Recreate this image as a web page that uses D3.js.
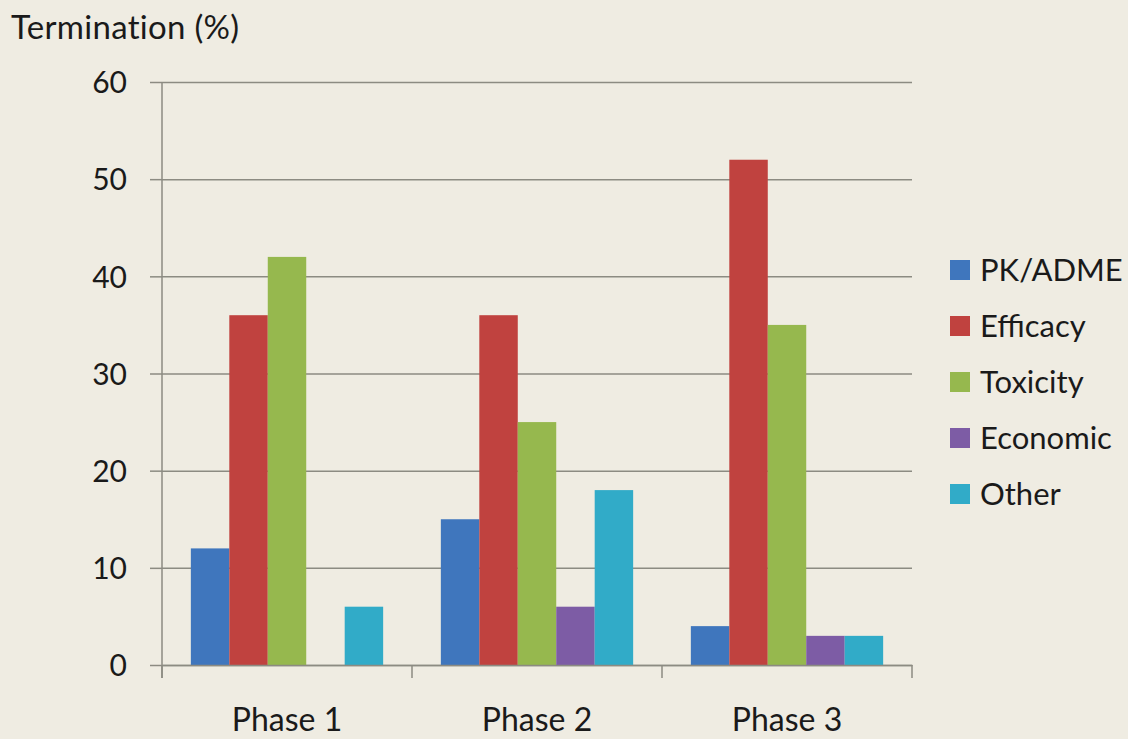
<!DOCTYPE html>
<html>
<head>
<meta charset="utf-8">
<script src="https://cdn.jsdelivr.net/npm/d3@7"></script>
<style>
  body { margin: 0; background: #efece2; }
  text { font-family: Lato, "Open Sans", sans-serif; fill: #1a1a1a; }
</style>
</head>
<body>
<div id="chart"></div>
<script>
// data
const phases = ["Phase 1", "Phase 2", "Phase 3"];
const series = ["PK/ADME", "Efficacy", "Toxicity", "Economic", "Other"];
const pkadme = [12, 15, 4];
const efficacy = [36, 36, 52];
const toxicity = [42, 25, 35];
const economic = [0, 6, 3];
const other = [6, 18, 3];
const yTicks = [0, 10, 20, 30, 40, 50, 60];
const colors = ["#3f76bd", "#c0423f", "#96b84e", "#7d5ca5", "#31abc8"];

const width = 1128, height = 739;
const margin = { top: 82, right: 216, bottom: 74, left: 162 };

const values = [pkadme, efficacy, toxicity, economic, other];
const rows = phases.map((p, i) => ({
  phase: p,
  vals: series.map((s, j) => ({ key: s, value: values[j][i] }))
}));

const svg = d3
  .select("#chart")
  .append("svg")
  .attr("width", width)
  .attr("height", height);

const x0 = d3
  .scaleBand()
  .domain(phases)
  .range([margin.left, width - margin.right]);
const x1 = d3
  .scaleBand()
  .domain(series)
  .range([0, x0.bandwidth()])
  .paddingOuter(0.75);
const y = d3
  .scaleLinear()
  .domain([0, 60])
  .range([height - margin.bottom, margin.top]);

// gridlines + y ticks
const yAxis = svg
  .append("g")
  .attr("transform", `translate(${margin.left},0)`)
  .call(
    d3
      .axisLeft(y)
      .tickValues(yTicks)
      .tickSize(-(width - margin.left - margin.right))
      .tickPadding(35)
  );
yAxis.select(".domain").remove();
yAxis.selectAll(".tick line").attr("stroke", "#8c8b82").attr("stroke-width", 1.5);
yAxis
  .selectAll(".tick")
  .append("line")
  .attr("x1", -12)
  .attr("x2", 0)
  .attr("stroke", "#8c8b82")
  .attr("stroke-width", 1.5);
yAxis.selectAll("text").style("font-size", "30px").attr("dy", "0.36em");

// y axis line
svg
  .append("line")
  .attr("x1", margin.left)
  .attr("x2", margin.left)
  .attr("y1", y(60))
  .attr("y2", y(0) + 13)
  .attr("stroke", "#8c8b82")
  .attr("stroke-width", 1.5);

// bars
svg
  .append("g")
  .selectAll("g")
  .data(rows)
  .join("g")
  .attr("transform", (d) => `translate(${x0(d.phase)},0)`)
  .selectAll("rect")
  .data((d) => d.vals)
  .join("rect")
  .attr("x", (d) => x1(d.key))
  .attr("width", x1.bandwidth())
  .attr("y", (d) => y(d.value))
  .attr("height", (d) => y(0) - y(d.value))
  .attr("fill", (d, i) => colors[i]);

// x axis
const xAxis = svg
  .append("g")
  .attr("transform", `translate(0,${y(0)})`)
  .call(d3.axisBottom(x0).tickSize(0).tickPadding(43));
xAxis.select(".domain").attr("stroke", "#8c8b82").attr("stroke-width", 1.5);
xAxis.selectAll("text").style("font-size", "32px");
// category separators
const seps = phases.map((p) => x0(p)).concat([x0.range()[1]]);
xAxis
  .selectAll(".sep")
  .data(seps)
  .join("line")
  .attr("class", "sep")
  .attr("x1", (d) => d)
  .attr("x2", (d) => d)
  .attr("y1", 0)
  .attr("y2", 13)
  .attr("stroke", "#8c8b82")
  .attr("stroke-width", 1.5);

// title
svg
  .append("text")
  .attr("x", 11)
  .attr("y", 39)
  .style("font-size", "33px")
  .style("letter-spacing", "0.3px")
  .text("Termination (%)");

// legend
const legend = svg
  .append("g")
  .selectAll("g")
  .data(series)
  .join("g")
  .attr("transform", (d, i) => `translate(950,${270 + i * 56})`);
legend
  .append("rect")
  .attr("x", 0)
  .attr("y", -10)
  .attr("width", 20)
  .attr("height", 20)
  .attr("fill", (d, i) => colors[i]);
legend
  .append("text")
  .attr("x", 30)
  .attr("dy", "0.36em")
  .style("font-size", "31px")
  .text((d) => d);
</script>
</body>
</html>
